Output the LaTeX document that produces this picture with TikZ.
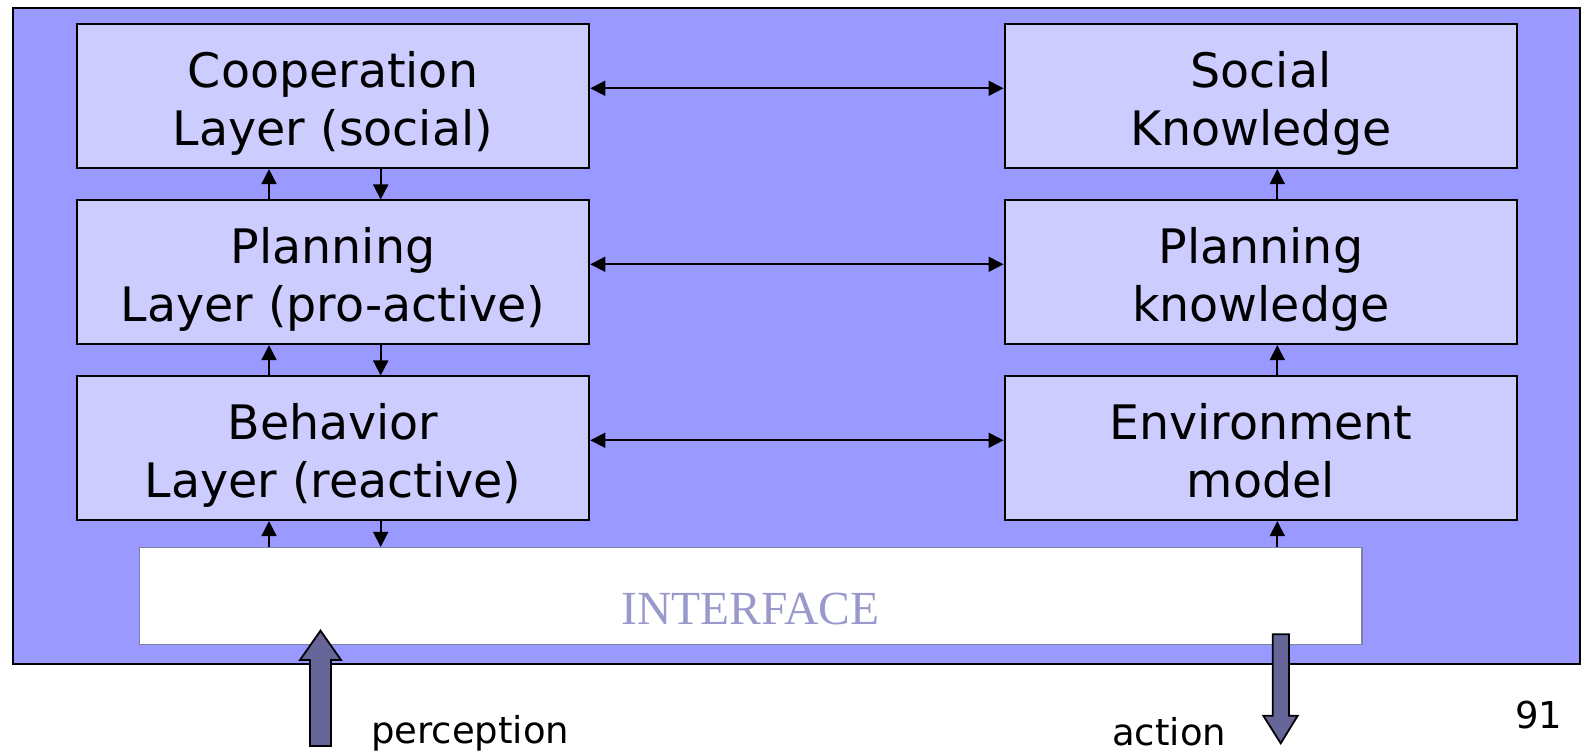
\documentclass[tikz,border=0pt]{standalone}
\usepackage{fontspec}
\setmainfont{DejaVu Sans}
\newfontfamily\serifface{Liberation Serif}
\usetikzlibrary{arrows.meta}

\definecolor{panelfill}{HTML}{9999FF}
\definecolor{layerfill}{HTML}{CCCCFF}
\definecolor{ifaceline}{HTML}{8080A8}
\definecolor{ifacetext}{HTML}{9999CC}
\definecolor{bigarrowfill}{HTML}{666699}

\tikzset{
  layerbox/.style={draw=black, line width=2pt, fill=layerfill,
    minimum width=512.6pt, minimum height=143.6pt, inner sep=0pt,
    align=center, font=\fontsize{47.5}{58.3}\selectfont,
    text height=98.8pt, text depth=0pt},
  conn/.style={line width=1.8pt, -{Triangle[length=15pt,width=15pt]}},
  dblconn/.style={line width=1.8pt, {Triangle[length=15pt,width=15pt]}-{Triangle[length=15pt,width=15pt]}},
  bigarrow/.style={fill=bigarrowfill, draw=black, line width=1.8pt, line join=miter},
  caption/.style={anchor=base west, inner sep=0pt, font=\fontsize{37}{44}\selectfont}
}

\begin{document}
\begin{tikzpicture}[x=1pt, y=1pt]
\useasboundingbox (0,0) rectangle (1581,752);

% enclosing agent panel
\node[draw=black, line width=2pt, fill=panelfill, inner sep=0pt,
      minimum width=1567.3pt, minimum height=656pt] (panel) at (796.35,415.7) {};

% layers (left) and knowledge bases (right)
\node[layerbox] (coop)     at (333,655.7)     {Cooperation\\Layer (social)};
\node[layerbox] (plan)     at (333,479.7)     {Planning\\Layer (pro-active)};
\node[layerbox] (behav)    at (333,303.7)     {Behavior\\Layer (reactive)};
\node[layerbox] (social)   at (1260.85,655.7) {Social\\Knowledge};
\node[layerbox] (planknow) at (1260.85,479.7) {Planning\\knowledge};
\node[layerbox] (envmodel) at (1260.85,303.7) {Environment\\model};

% interface strip
\node[draw=ifaceline, line width=1.5pt, fill=white, inner sep=0pt,
      minimum width=1222.7pt, minimum height=96.6pt,
      font=\serifface\fontsize{47.5}{57}\selectfont, text=ifacetext,
      text height=57.4pt, text depth=0pt] (iface) at (750.65,156) {INTERFACE};

% layer <-> knowledge links
\draw[dblconn] ([yshift=8pt]coop.east)  -- ([yshift=8pt]coop.east -| social.west);
\draw[dblconn] ([yshift=8pt]plan.east)  -- ([yshift=8pt]plan.east -| planknow.west);
\draw[dblconn] ([yshift=8pt]behav.east) -- ([yshift=8pt]behav.east -| envmodel.west);

% vertical link columns
\coordinate (upL)   at ([xshift=-64pt]coop.south);
\coordinate (downL) at ([xshift=47.7pt]coop.south);
\coordinate (upR)   at ([xshift=16.45pt]social.south);

\draw[conn] (upL |- plan.north)   -- (upL |- coop.south);
\draw[conn] (downL |- coop.south) -- (downL |- plan.north);
\draw[conn] (upL |- behav.north)  -- (upL |- plan.south);
\draw[conn] (downL |- plan.south) -- (downL |- behav.north);
\draw[conn] (upL |- iface.north)  -- (upL |- behav.south);
\draw[conn] (downL |- behav.south) -- (downL |- iface.north);

\draw[conn] (upR |- planknow.north) -- (upR |- social.south);
\draw[conn] (upR |- envmodel.north) -- (upR |- planknow.south);
\draw[conn] (upR |- iface.north)    -- (upR |- envmodel.south);

% perception input and action output
\coordinate (perctip) at (320.5,121.3);
\draw[bigarrow] (perctip) -- (341,92) -- (331,92) -- (331,6) -- (310,6) -- (310,92) -- (300,92) -- cycle;
\coordinate (acttip) at (1280.7,8.7);
\draw[bigarrow] (acttip) -- (1297.7,36.3) -- (1289,36.3) -- (1289,117.7) -- (1272.7,117.7) -- (1272.7,36.3) -- (1263.3,36.3) -- cycle;

\node[caption] (perclabel) at (371,9)  {perception};
\node[caption] (actlabel)  at (1112,7) {action};
\node[caption] (pagenum)   at (1515,24) {91};
\end{tikzpicture}
\end{document}
